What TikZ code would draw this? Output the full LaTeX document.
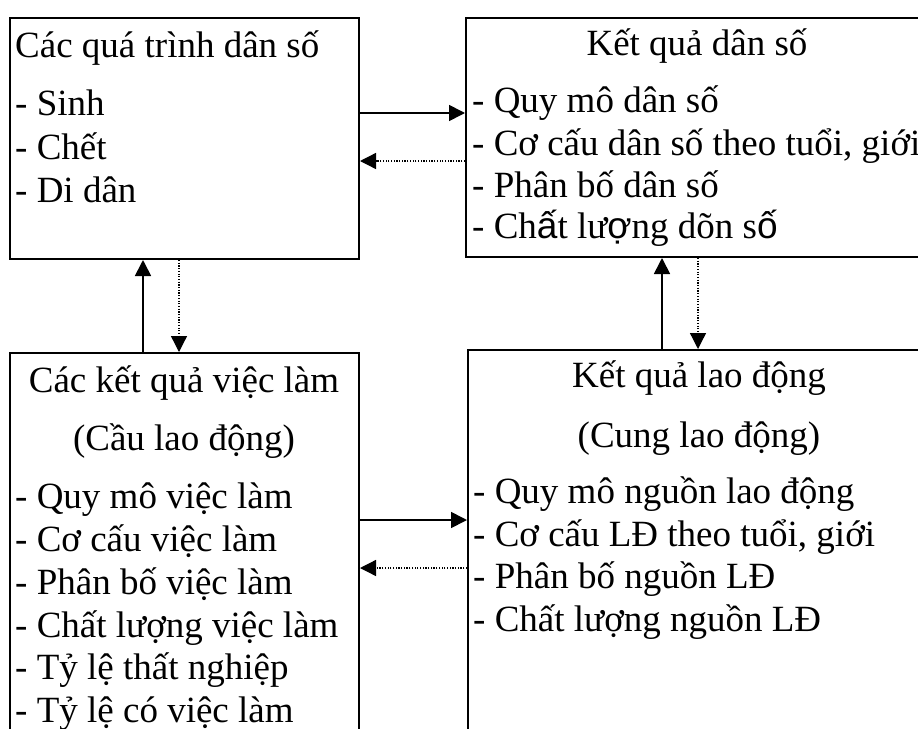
\documentclass[tikz,border=0pt]{standalone}
\usepackage{fontspec}
\setmainfont{Liberation Serif}
\newfontfamily\sansf{Liberation Sans}
\usetikzlibrary{arrows.meta}
\tikzset{
  box/.style={draw, line width=2pt, rectangle, inner sep=0pt, anchor=north west},
  txt/.style={inner sep=0pt, anchor=base west, font=\fontsize{37}{43}\selectfont},
  ctxt/.style={inner sep=0pt, anchor=base, font=\fontsize{37}{43}\selectfont},
  solidarrow/.style={line width=1.7pt, -{Triangle[length=16pt,width=16pt]}},
  dotarrow/.style={line width=1.3pt, dash pattern=on 1.2pt off 1.5pt, -{Triangle[length=16pt,width=16pt]}}
}
\begin{document}
\begin{tikzpicture}[x=1pt,y=-1pt]
\useasboundingbox (0,0) rectangle (918,728);
\clip (0,0) rectangle (918,728);
\fill[white] (0,0) rectangle (918,728);
% boxes
\node[box, minimum width=349pt, minimum height=241pt] (b1) at (9,17) {};
\node[box, minimum width=465pt, minimum height=239pt] (b2) at (465,17) {};
\node[box, minimum width=349pt, minimum height=420pt] (b3) at (9,352) {};
\node[box, minimum width=465pt, minimum height=420pt] (b4) at (467,349) {};
% box 1 text
\node[txt] (t1) at (15,57) {Các quá trình dân số};
\node[txt] (t1a) at (15,115) {- Sinh};
\node[txt] (t1b) at (15,159) {- Chết};
\node[txt] (t1c) at (15,202) {- Di dân};
% box 2 text
\node[ctxt] (t2) at (697,55) {Kết quả dân số};
\node[txt] (t2a) at (472,112) {- Quy mô dân số};
\node[txt] (t2b) at (472,155) {- Cơ cấu dân số theo tuổi, giới};
\node[txt] (t2c) at (472,197) {- Phân bố dân số};
\node[txt] (t2d) at (472,238) {- Ch{\sansf ấ}t lư{\sansf ợ}ng dõn s{\sansf ố}};
% box 3 text
\node[ctxt] (t3) at (184,392) {Các kết quả việc làm};
\node[ctxt] (t3s) at (184,450) {(Cầu lao động)};
\node[txt] (t3a) at (15,508) {- Quy mô việc làm};
\node[txt] (t3b) at (15,551) {- Cơ cấu việc làm};
\node[txt] (t3c) at (15,594) {- Phân bố việc làm};
\node[txt] (t3d) at (15,637) {- Chất lượng việc làm};
\node[txt] (t3e) at (15,679) {- Tỷ lệ thất nghiệp};
\node[txt] (t3f) at (15,722) {- Tỷ lệ có việc làm};
% box 4 text
\node[ctxt] (t4) at (699,387) {Kết quả lao động};
\node[ctxt] (t4s) at (699,447) {(Cung lao động)};
\node[txt] (t4a) at (473,503) {- Quy mô nguồn lao động};
\node[txt] (t4b) at (473,546) {- Cơ cấu LĐ theo tuổi, giới};
\node[txt] (t4c) at (473,588) {- Phân bố nguồn LĐ};
\node[txt] (t4d) at (473,631) {- Chất lượng nguồn LĐ};
% connectors
\draw[solidarrow] (b1.east |- 0,113) -- (b2.west |- 0,113);
\draw[dotarrow] (b2.west |- 0,161) -- (b1.east |- 0,161);
\draw[solidarrow] (b3.east |- 0,520) -- (b4.west |- 0,520);
\draw[dotarrow] (b4.west |- 0,568) -- (b3.east |- 0,568);
\draw[solidarrow] (b3.north -| 143,0) -- (b1.south -| 143,0);
\draw[dotarrow] (b1.south -| 179,0) -- (b3.north -| 179,0);
\draw[solidarrow] (b4.north -| 662,0) -- (b2.south -| 662,0);
\draw[dotarrow] (b2.south -| 698,0) -- (b4.north -| 698,0);
\end{tikzpicture}
\end{document}
